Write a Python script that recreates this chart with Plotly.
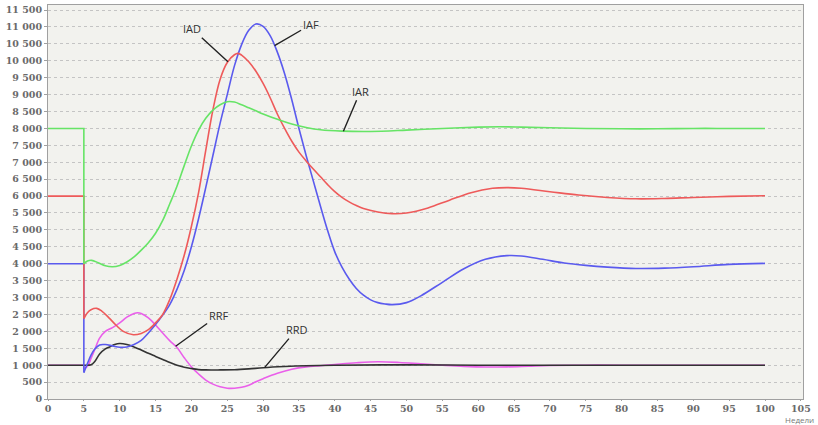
import numpy as np
import plotly.graph_objects as go

# ---------------- data ----------------
x_ticks = list(range(0, 106, 5))
y_ticks = list(range(0, 11501, 500))
step_week = 5

# IAR (green)
iar_pre = 8000
iar_t = [5, 5.5, 6.1, 7, 8, 9, 10, 11, 12, 13, 14, 15, 16, 17, 18, 19, 20, 21, 22, 23, 24, 25, 26, 27, 28,
         29, 30, 32, 34, 36, 38, 41, 45, 50, 55, 60, 63, 66, 70, 75, 80, 85, 90, 95, 100]
iar_v = [4000, 4080, 4100, 4030, 3940, 3910, 3950, 4050, 4200, 4400, 4620, 4900, 5280, 5780, 6300, 6900, 7480,
         7950, 8300, 8540, 8700, 8790, 8780, 8700, 8610, 8520, 8430, 8270, 8130, 8030, 7960, 7920, 7910, 7950,
         8000, 8040, 8050, 8040, 8020, 8000, 7990, 7990, 8000, 8000, 8000]

# IAD (red)
iad_pre = 6000
iad_t = [5, 5.5, 6, 6.8, 7.5, 8.5, 9.5, 10.5, 11.9, 13, 14, 15, 16, 17, 18, 19, 20, 21, 22, 23, 24, 25, 26,
         26.5, 27, 28, 29, 30, 31, 32, 33, 34, 35, 36, 37, 38, 39, 40, 41, 42, 43, 44, 46, 48, 50, 53, 56, 59,
         62, 64, 66, 70, 74, 78, 82, 86, 90, 95, 100]
iad_v = [2380, 2550, 2640, 2680, 2600, 2400, 2180, 2000, 1900, 1940, 2050, 2250, 2500, 2950, 3550, 4250, 5100,
         6100, 7350, 8550, 9450, 9950, 10180, 10220, 10170, 9970, 9690, 9330, 8900, 8420, 8000, 7620, 7300,
         7040, 6800, 6570, 6340, 6130, 5960, 5830, 5720, 5630, 5530, 5480, 5500, 5650, 5880, 6100, 6230, 6250,
         6230, 6130, 6030, 5960, 5920, 5930, 5960, 5990, 6010]

# IAF (blue)
iaf_pre = 4000
iaf_t = [5, 5.5, 6, 6.5, 7.2, 8, 9, 10, 11, 12, 13, 14, 15, 16, 17, 18, 19, 20, 21, 22, 23, 24, 25, 26, 27,
         28, 29, 30, 31, 32, 33, 34, 35, 36, 37, 38, 39, 40, 41, 42, 43, 44, 45, 46, 47, 48, 50, 52, 55, 58,
         61, 64, 66, 69, 72, 75, 78, 82, 86, 90, 95, 100]
iaf_v = [780, 1050, 1300, 1470, 1600, 1610, 1570, 1530, 1540, 1610, 1730, 1950, 2200, 2480, 2800, 3250, 3800,
         4500, 5330, 6250, 7200, 8150, 9000, 9850, 10480, 10900, 11090, 11020, 10740, 10250, 9620, 8850,
         8000, 7200, 6450, 5700, 4980, 4350, 3900, 3550, 3270, 3070, 2930, 2850, 2810, 2790, 2850, 3050,
         3450, 3850, 4130, 4240, 4230, 4130, 4020, 3950, 3900, 3860, 3870, 3910, 3980, 4010]

# RRF (magenta)
rrf_pre = 1000
rrf_t = [5, 5.6, 6, 6.5, 7.2, 8, 9, 10, 11, 12, 12.5, 13, 14, 15, 16, 17, 18, 19, 20, 21, 22, 23, 24, 25,
         26, 27, 28, 29, 30, 32, 34, 36, 38, 40, 43, 46, 49, 52, 55, 58, 61, 64, 67, 70, 75, 80, 90, 100]
rrf_v = [880, 1000, 1200, 1450, 1800, 2000, 2110, 2250, 2420, 2530, 2550, 2530, 2400, 2190, 1950, 1720, 1520,
         1220, 950, 740, 560, 440, 360, 320, 318, 345, 410, 510, 600, 760, 880, 950, 985, 1020, 1070, 1100,
         1080, 1040, 1000, 965, 945, 950, 970, 990, 1000, 1000, 1000, 1000]

# RRD (black)
rrd_pre = 1000
rrd_t = [5, 6, 6.5, 7.2, 8, 8.6, 9.3, 10, 11, 12, 13, 14, 15, 16, 17, 18, 19, 20, 21, 22, 24, 26, 28, 30, 33,
         36, 40, 50, 60, 70, 80, 90, 100]
rrd_v = [1000, 1010, 1100, 1330, 1480, 1540, 1610, 1640, 1610, 1540, 1450, 1350, 1260, 1170, 1080, 1000, 940,
         900, 870, 860, 860, 865, 890, 925, 960, 985, 1000, 1010, 1000, 1000, 1000, 1000, 1000]

# labels: name, week where the leader touches the curve, pixel offset of text
label_names = ["IAD", "IAF", "IAR", "RRF", "RRD"]
label_weeks = [25.1, 31.6, 41.2, 17.8, 30.2]
label_ax = [-36, 36, 17, 43, 32]
label_ay = [-33, -21, -40, -31, -38]

# ---------------- figure ----------------
series = {
    "RRF": (rrf_pre, rrf_t, rrf_v, "#ea5fea"),
    "RRD": (rrd_pre, rrd_t, rrd_v, "#333333"),
    "IAF": (iaf_pre, iaf_t, iaf_v, "#5a5aee"),
    "IAD": (iad_pre, iad_t, iad_v, "#ee5a5a"),
    "IAR": (iar_pre, iar_t, iar_v, "#66e466"),
}

fig = go.Figure()
for name, (pre, tt, vv, col) in series.items():
    fig.add_trace(go.Scatter(x=[0, step_week, step_week], y=[pre, pre, vv[0]], mode="lines",
                             line=dict(color=col, width=1.6), showlegend=False, hoverinfo="skip"))
    fig.add_trace(go.Scatter(x=tt, y=vv, mode="lines", name=name,
                             line=dict(color=col, width=1.6, shape="spline", smoothing=1.0),
                             showlegend=False))

for name, wk, ax, ay in zip(label_names, label_weeks, label_ax, label_ay):
    _, tt, vv, _ = series[name]
    fig.add_annotation(x=wk, y=float(np.interp(wk, tt, vv)), text=name, showarrow=True,
                       arrowhead=0, arrowwidth=1.4, arrowcolor="#222222", ax=ax, ay=ay,
                       standoff=0, font=dict(family="Open Sans, DejaVu Sans", size=11, color="#333333"))

fig.add_annotation(x=1.0, y=0, xref="paper", yref="paper", xanchor="right", yanchor="middle",
                   xshift=12, yshift=-20, text="Недели", showarrow=False, borderpad=0,
                   font=dict(family="Open Sans, DejaVu Sans", size=8, color="#777777"))

tick_font = dict(family="DejaVu Serif", size=9.5, color="#6a6a6a", weight="bold")
fig.update_layout(
    width=818, height=425,
    margin=dict(l=48, r=15, t=5, b=26),
    paper_bgcolor="white", plot_bgcolor="#f2f2ee",
    separators=". ",
    xaxis=dict(range=[0, 105.3], tickvals=x_ticks, showgrid=False, zeroline=False, automargin=False,
               showline=True, mirror=True, linecolor="#a0a0a0", linewidth=1,
               ticks="outside", ticklen=1, tickcolor="#a0a0a0", tickfont=tick_font),
    yaxis=dict(range=[0, 11650], tickvals=y_ticks, tickformat=",d", showgrid=True, automargin=False,
               gridcolor="#c4c4c4", griddash="dot", gridwidth=1, zeroline=False,
               showline=True, mirror=True, linecolor="#a0a0a0", linewidth=1,
               ticks="outside", ticklen=3, tickcolor="#a0a0a0", tickfont=tick_font),
)

fig.write_html("out.html", config={"displayModeBar": False},
               post_script="document.body.style.margin='0px';")
